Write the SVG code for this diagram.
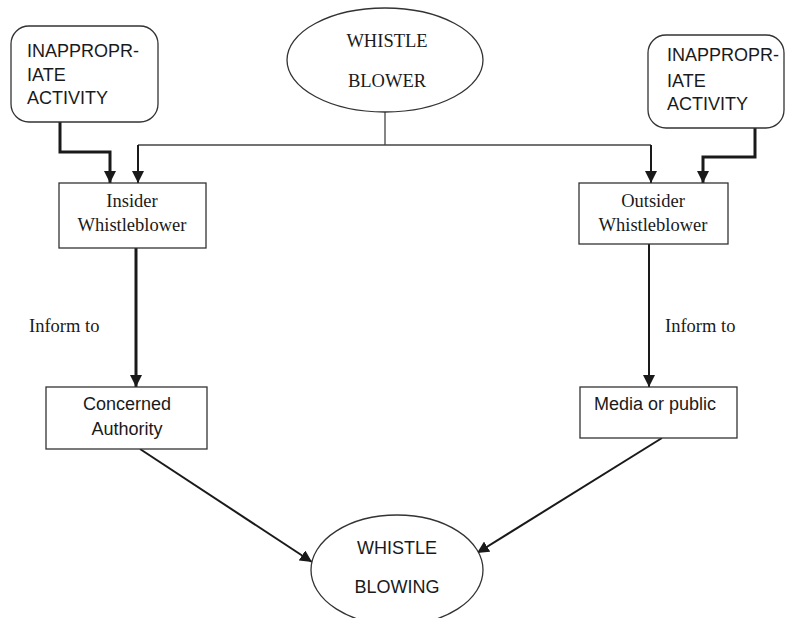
<svg xmlns="http://www.w3.org/2000/svg" width="787" height="618" viewBox="0 0 787 618">
<defs>
<style>
.box{fill:#fff;stroke:#333;stroke-width:1.3}
.sans{font-family:"Liberation Sans",Arial,sans-serif;font-size:18px;fill:#1a1a1a}
.serif{font-family:"Liberation Serif","Times New Roman",serif;font-size:18.5px;fill:#1a1a1a}
.thick{fill:none;stroke:#1a1a1a;stroke-width:3}
.med{fill:none;stroke:#1a1a1a;stroke-width:2}
.thin{fill:none;stroke:#444;stroke-width:1.3}
</style>
<marker id="ah" viewBox="0 0 10 10" refX="10" refY="5" markerWidth="12" markerHeight="12" markerUnits="userSpaceOnUse" orient="auto">
<path d="M0,0 L10,5 L0,10 Z" fill="#1a1a1a"/>
</marker>
</defs>
<rect width="787" height="618" fill="#fff"/>
<g id="connectors">
<path class="thick" d="M60,122 V152 H110 V183" marker-end="url(#ah)"/>
<path class="thin" d="M385,112 V145"/>
<path class="thin" d="M138,145 H651"/>
<path class="med" d="M138,145 V183" marker-end="url(#ah)"/>
<path class="med" d="M651,145 V183" marker-end="url(#ah)"/>
<path class="thick" d="M755,128 V157 H703 V183" marker-end="url(#ah)"/>
<path class="thick" d="M136,248 V387" marker-end="url(#ah)"/>
<path class="med" d="M649,244 V387" marker-end="url(#ah)"/>
<path class="med" d="M140,449 L312,562" marker-end="url(#ah)"/>
<path class="med" d="M662,438 L477,553" marker-end="url(#ah)"/>
</g>
<g id="inappropriate-left">
<rect class="box" x="11" y="26" width="147" height="96" rx="18"/>
<text class="sans" x="27" y="57">INAPPROPR-</text>
<text class="sans" x="27" y="81">IATE</text>
<text class="sans" x="27" y="104">ACTIVITY</text>
</g>
<g id="whistle-blower">
<ellipse class="box" cx="385" cy="60" rx="98" ry="52"/>
<text class="serif" x="387" y="47" text-anchor="middle">WHISTLE</text>
<text class="serif" x="387" y="87" text-anchor="middle">BLOWER</text>
</g>
<g id="inappropriate-right">
<rect class="box" x="648" y="35" width="136" height="93" rx="18"/>
<text class="sans" x="667" y="61">INAPPROPR-</text>
<text class="sans" x="667" y="87">IATE</text>
<text class="sans" x="667" y="110">ACTIVITY</text>
</g>
<g id="insider">
<rect class="box" x="59" y="183" width="147" height="65"/>
<text class="serif" x="132" y="207" text-anchor="middle">Insider</text>
<text class="serif" x="132" y="231" text-anchor="middle">Whistleblower</text>
</g>
<g id="outsider">
<rect class="box" x="579" y="183" width="149" height="61"/>
<text class="serif" x="653" y="207" text-anchor="middle">Outsider</text>
<text class="serif" x="653" y="231" text-anchor="middle">Whistleblower</text>
</g>
<g id="label-inform-left">
<text class="serif" x="29" y="332">Inform to</text>
</g>
<g id="label-inform-right">
<text class="serif" x="665" y="332">Inform to</text>
</g>
<g id="concerned">
<rect class="box" x="46" y="387" width="161" height="62"/>
<text class="sans" x="127" y="410" text-anchor="middle">Concerned</text>
<text class="sans" x="127" y="435" text-anchor="middle">Authority</text>
</g>
<g id="media">
<rect class="box" x="580" y="387" width="157" height="51"/>
<text class="sans" x="655" y="410" text-anchor="middle">Media or public</text>
</g>
<g id="whistle-blowing">
<ellipse class="box" cx="397" cy="570" rx="86" ry="55"/>
<text class="sans" x="397" y="554" text-anchor="middle">WHISTLE</text>
<text class="sans" x="397" y="593" text-anchor="middle">BLOWING</text>
</g>
</svg>
